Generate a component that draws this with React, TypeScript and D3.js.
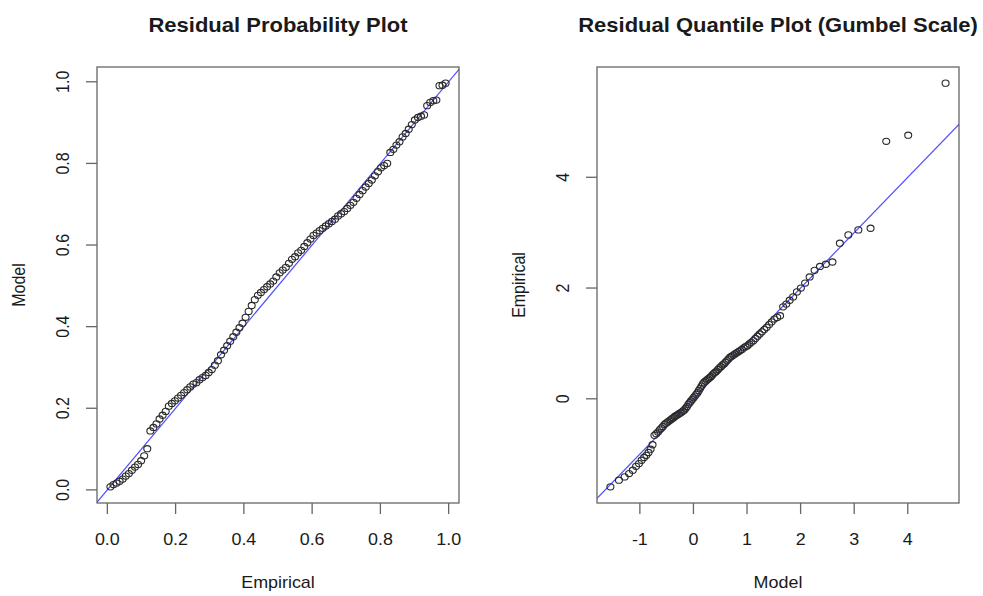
import { useEffect, useRef } from 'react';
import * as d3 from 'd3';

// plotting positions i/(n+1) of the sorted residuals (n = 110)
const empirical = [
  0.009, 0.018, 0.027, 0.036, 0.045, 0.054, 0.063, 0.072, 0.081, 0.09,
  0.099, 0.108, 0.117, 0.126, 0.135, 0.144, 0.153, 0.162, 0.171, 0.18,
  0.189, 0.198, 0.207, 0.216, 0.225, 0.234, 0.243, 0.252, 0.261, 0.27,
  0.279, 0.288, 0.297, 0.306, 0.315, 0.324, 0.333, 0.342, 0.351, 0.36,
  0.369, 0.378, 0.387, 0.396, 0.405, 0.414, 0.423, 0.432, 0.441, 0.45,
  0.459, 0.468, 0.477, 0.486, 0.495, 0.505, 0.514, 0.523, 0.532, 0.541,
  0.55, 0.559, 0.568, 0.577, 0.586, 0.595, 0.604, 0.613, 0.622, 0.631,
  0.64, 0.649, 0.658, 0.667, 0.676, 0.685, 0.694, 0.703, 0.712, 0.721,
  0.73, 0.739, 0.748, 0.757, 0.766, 0.775, 0.784, 0.793, 0.802, 0.811,
  0.82, 0.829, 0.838, 0.847, 0.856, 0.865, 0.874, 0.883, 0.892, 0.901,
  0.91, 0.919, 0.928, 0.937, 0.946, 0.955, 0.964, 0.973, 0.982, 0.991
];

// sorted standardized residuals
const residuals = [
  -1.59, -1.47, -1.41, -1.35, -1.29, -1.22, -1.17, -1.11, -1.06, -1.02,
  -0.97, -0.91, -0.83, -0.66, -0.63, -0.6, -0.56, -0.53, -0.5, -0.46,
  -0.44, -0.42, -0.4, -0.38, -0.36, -0.34, -0.32, -0.3, -0.29, -0.27,
  -0.255, -0.24, -0.22, -0.2, -0.17, -0.14, -0.1, -0.07, -0.04, -0.01,
  0.02, 0.05, 0.08, 0.11, 0.15, 0.19, 0.23, 0.27, 0.3, 0.32,
  0.34, 0.36, 0.38, 0.4, 0.43, 0.46, 0.48, 0.5, 0.53, 0.56,
  0.58, 0.61, 0.63, 0.66, 0.69, 0.72, 0.75, 0.77, 0.79, 0.81,
  0.83, 0.85, 0.87, 0.89, 0.92, 0.94, 0.96, 0.99, 1.02, 1.05,
  1.09, 1.13, 1.17, 1.21, 1.25, 1.29, 1.34, 1.39, 1.44, 1.47,
  1.5, 1.66, 1.71, 1.78, 1.84, 1.93, 2.0, 2.09, 2.2, 2.32,
  2.39, 2.43, 2.47, 2.81, 2.96, 3.05, 3.08, 4.65, 4.76, 5.7
];

const probTicks = [0, 0.2, 0.4, 0.6, 0.8, 1.0];
const quantXTicks = [-1, 0, 1, 2, 3, 4];
const quantYTicks = [0, 2, 4];

const gumbelCdf = (z: number) => Math.exp(-Math.exp(-z));
const gumbelQuantile = (p: number) => -Math.log(-Math.log(p));

const FONT = '"Liberation Sans", Arial, sans-serif';
const SX = 1.12; // the reference is a bit wider than tall

// R style range: data extent padded 4%
const padded = (vals: number[]) => {
  const [a, b] = d3.extent(vals) as [number, number];
  const p = (b - a) * 0.04;
  return [a - p, b + p];
};

const App = () => {
  const svgRef = useRef<SVGSVGElement>(null);

  useEffect(() => {
    const svg = d3.select(svgRef.current);
    svg.selectAll('*').remove();

    const top = 67;
    const bottom = 503;

    const text = (g: any, x: number, y: number, str: string, size: number, opts: any = {}) =>
      g.append('text')
        .attr('transform', `translate(${x},${y}) scale(${opts.sx || SX},1)${opts.rotate ? ' rotate(-90)' : ''}`)
        .attr('text-anchor', 'middle')
        .attr('dy', opts.dy || 0)
        .style('font-family', FONT)
        .style('font-size', `${size}px`)
        .style('font-weight', opts.bold ? 'bold' : 'normal')
        .attr('fill', '#1a1a1a')
        .text(str);

    const panel = (
      id: string,
      left: number,
      right: number,
      xs: number[],
      ys: number[],
      xTicks: number[],
      yTicks: number[],
      fmt: (v: number) => string,
      title: string,
      xLabel: string,
      yLabel: string
    ) => {
      const x = d3.scaleLinear().domain(padded(xs)).range([left, right]);
      const y = d3.scaleLinear().domain(padded(ys)).range([bottom, top]);
      const g = svg.append('g');

      g.append('clipPath')
        .attr('id', id)
        .append('rect')
        .attr('x', left)
        .attr('y', top)
        .attr('width', right - left)
        .attr('height', bottom - top);

      // 45 degree reference line
      const [d0, d1] = [Math.min(...x.domain(), ...y.domain()), Math.max(...x.domain(), ...y.domain())];
      g.append('line')
        .attr('clip-path', `url(#${id})`)
        .attr('x1', x(d0))
        .attr('y1', y(d0))
        .attr('x2', x(d1))
        .attr('y2', y(d1))
        .attr('stroke', '#4d4dff')
        .attr('stroke-width', 1.2);

      g.selectAll('ellipse.pt')
        .data(xs.map((v, i) => [v, ys[i]]))
        .enter()
        .append('ellipse')
        .attr('class', 'pt')
        .attr('cx', d => x(d[0]))
        .attr('cy', d => y(d[1]))
        .attr('rx', 3.5)
        .attr('ry', 3.1)
        .attr('fill', 'none')
        .attr('stroke', '#2a2a2a')
        .attr('stroke-width', 1.1);

      g.append('rect')
        .attr('x', left)
        .attr('y', top)
        .attr('width', right - left)
        .attr('height', bottom - top)
        .attr('fill', 'none')
        .attr('stroke', '#666')
        .attr('stroke-width', 1.3);

      xTicks.forEach(t => {
        g.append('line')
          .attr('x1', x(t)).attr('x2', x(t))
          .attr('y1', bottom).attr('y2', bottom + 11)
          .attr('stroke', '#666').attr('stroke-width', 1.3);
        text(g, x(t), 545, fmt(t), 16);
      });

      yTicks.forEach(t => {
        g.append('line')
          .attr('x1', left - 11).attr('x2', left)
          .attr('y1', y(t)).attr('y2', y(t))
          .attr('stroke', '#666').attr('stroke-width', 1.3);
        text(g, left - 34, y(t), fmt(t), 16, { rotate: true, dy: '0.36em' });
      });

      const cx = (left + right) / 2;
      text(g, cx, 32, title, 20, { bold: true, sx: 1.1 });
      text(g, cx, 588, xLabel, 16);
      text(g, left - 78, (top + bottom) / 2, yLabel, 16, { rotate: true, dy: '0.36em' });
    };

    panel(
      'clipA', 97, 459,
      empirical,
      residuals.map(gumbelCdf),
      probTicks, probTicks,
      d3.format('.1f'),
      'Residual Probability Plot', 'Empirical', 'Model'
    );

    panel(
      'clipB', 597, 959,
      empirical.map(gumbelQuantile),
      residuals,
      quantXTicks, quantYTicks,
      (t: number) => String(t),
      'Residual Quantile Plot (Gumbel Scale)', 'Model', 'Empirical'
    );
  }, []);

  return (
    <svg
      ref={svgRef}
      width={983}
      height={596}
      style={{ position: 'absolute', left: 0, top: 0, background: '#fff' }}
    />
  );
};

export default App;
